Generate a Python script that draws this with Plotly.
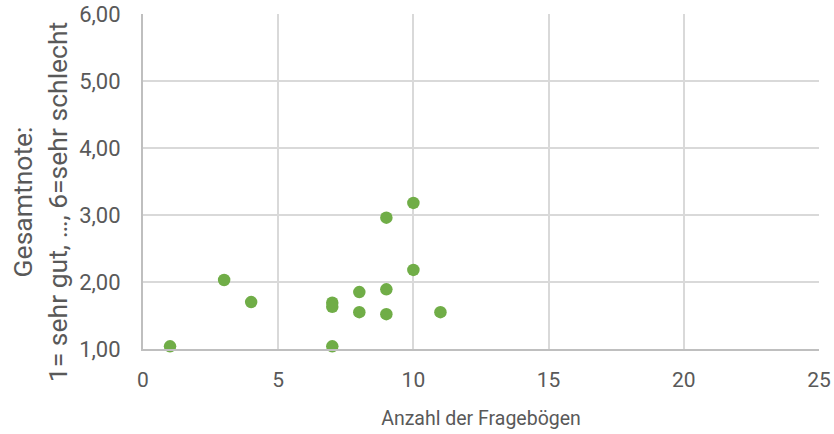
import plotly.graph_objects as go

anzahl = [1, 3, 4, 7, 7, 7, 8, 8, 9, 9, 9, 10, 10, 11]
note = [1.04, 2.03, 1.70, 1.69, 1.63, 1.04, 1.85, 1.55, 2.96, 1.89, 1.52, 3.18, 2.18, 1.55]

x_ticks = [0, 5, 10, 15, 20, 25]
y_ticks = [1, 2, 3, 4, 5, 6]

x_title = "Anzahl der Fragebögen"
y_title = "Gesamtnote:<br>1= sehr gut, …, 6=sehr schlecht"

fig = go.Figure(go.Scatter(
    x=anzahl, y=note, mode="markers",
    marker=dict(color="#70ad47", size=12.5, line=dict(width=0)),
    cliponaxis=False,
))

font_fam = "Roboto, Noto Sans, sans-serif"
fig.update_layout(
    width=834, height=434,
    margin=dict(l=143, r=15, t=14, b=85),
    paper_bgcolor="white", plot_bgcolor="white",
    separators=",.",
    showlegend=False,
    font=dict(family=font_fam, color="#595959", size=20),
    xaxis=dict(
        range=[0, 25], tickvals=x_ticks, showgrid=True, gridcolor="#d9d9d9", gridwidth=1.75,
        showline=True, linecolor="#bfbfbf", linewidth=2, zeroline=False,
        ticks="", tickfont=dict(size=21, color="#595959"), ticklabelstandoff=11,
        ticklabeloverflow="allow", automargin=False,
        title=dict(text=x_title, font=dict(size=19.5, color="#595959"), standoff=20),
    ),
    yaxis=dict(
        range=[1, 6], tickvals=y_ticks, tickformat=".2f", showgrid=True, gridcolor="#d9d9d9", gridwidth=1.75,
        showline=True, linecolor="#bfbfbf", linewidth=2, zeroline=False,
        ticks="", tickfont=dict(size=22, color="#595959"), ticklabelstandoff=16,
        ticklabeloverflow="allow", automargin=False,
    ),
    annotations=[dict(
        text=y_title, textangle=-90, showarrow=False,
        xref="paper", yref="paper", x=-0.152, y=0.439,
        xanchor="center", yanchor="middle",
        font=dict(size=26.5, color="#595959", family=font_fam),
    )],
)
fig.write_html(
    "out.html",
    config={"displayModeBar": False},
    post_script="document.body.style.margin='0';document.body.style.overflow='hidden';",
)
